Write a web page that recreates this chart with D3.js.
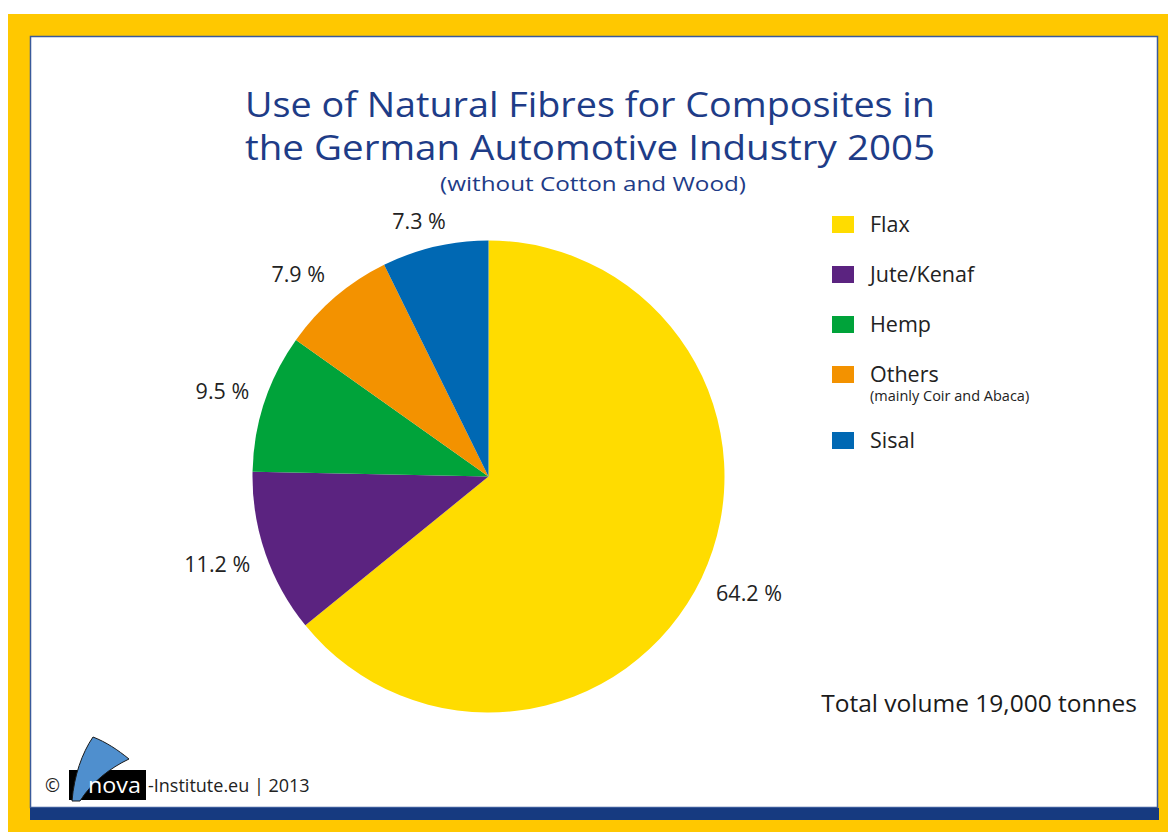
<!DOCTYPE html>
<html>
<head>
<meta charset="utf-8">
<script src="https://cdn.jsdelivr.net/npm/d3@7"></script>
<style>
  html, body { margin: 0; padding: 0; background: #fff; }
  svg { display: block; }
  text { font-family: "Open Sans", "Noto Sans", sans-serif; }
</style>
</head>
<body>
<svg id="chart" width="1168" height="832"></svg>
<script>
// ---- data ----
const categories = ["Flax", "Jute/Kenaf", "Hemp", "Others", "Sisal"];
const shares = [64.2, 11.2, 9.5, 7.9, 7.3];
const valueLabels = ["64.2 %", "11.2 %", "9.5 %", "7.9 %", "7.3 %"];
const legendNotes = ["", "", "", "(mainly Coir and Abaca)", ""];
const colors = ["#FFDC00", "#5B2380", "#00A33A", "#F39200", "#0068B3"];
const titleLines = ["Use of Natural Fibres for Composites in", "the German Automotive Industry 2005"];
const subtitle = "(without Cotton and Wood)";
const totalNote = "Total volume 19,000 tonnes";

const svg = d3.select("#chart");
const navy = "#1E3C87";

// ---- frame ----
svg.append("rect").attr("x", 8).attr("y", 14).attr("width", 1160).attr("height", 818).attr("fill", "#FFC800");
svg.append("rect").attr("x", 30.5).attr("y", 36.5).attr("width", 1127).attr("height", 771)
  .attr("fill", "#fff").attr("stroke", "#3A5A9A").attr("stroke-width", 1.5);
svg.append("rect").attr("x", 30).attr("y", 808).attr("width", 1129).attr("height", 12).attr("fill", "#163A80");

// ---- titles ----
const cx = 590;
svg.append("text").attr("x", cx).attr("y", 117).attr("text-anchor", "middle")
  .attr("font-size", 35).attr("fill", navy).attr("textLength", 690).attr("lengthAdjust", "spacingAndGlyphs")
  .text(titleLines[0]);
svg.append("text").attr("x", cx).attr("y", 160).attr("text-anchor", "middle")
  .attr("font-size", 35).attr("fill", navy).attr("textLength", 690).attr("lengthAdjust", "spacingAndGlyphs")
  .text(titleLines[1]);
svg.append("text").attr("x", 593).attr("y", 191).attr("text-anchor", "middle")
  .attr("font-size", 20).attr("fill", navy).attr("textLength", 306).attr("lengthAdjust", "spacingAndGlyphs")
  .text(subtitle);

// ---- pie ----
const center = [488.5, 476.5];
const radius = 236;
const data = categories.map((c, i) => ({ name: c, value: shares[i], label: valueLabels[i], color: colors[i] }));
const pie = d3.pie().value(d => d.value).sort(null);
const arc = d3.arc().innerRadius(0).outerRadius(radius);
const labelArc = d3.arc().innerRadius(252).outerRadius(252);
const g = svg.append("g").attr("transform", `translate(${center[0]},${center[1]})`);
const arcs = pie(data);
g.selectAll("path.slice").data(arcs).enter().append("path")
  .attr("class", "slice").attr("d", arc).attr("fill", d => d.data.color);
const clamp = v => Math.max(-1, Math.min(1, v));
g.selectAll("text.pct").data(arcs).enter().append("text")
  .attr("class", "pct")
  .attr("text-anchor", "middle").attr("dy", "0.35em")
  .attr("font-size", 21.5).attr("fill", "#222")
  .text(d => d.data.label)
  .each(function(d) {
    const bb = this.getBBox();
    const a = (d.startAngle + d.endAngle) / 2;
    const c = labelArc.centroid(d);
    const ox = bb.width / 2 * clamp(Math.sin(a) / 0.5);
    const oy = 10 * clamp(-Math.cos(a) / 0.5);
    d3.select(this).attr("transform", `translate(${c[0] + ox},${c[1] + oy})`);
  });

// ---- legend ----
const legendY = d3.scalePoint().domain(categories).range([216, 416]);
const lg = svg.append("g");
categories.forEach((c, i) => {
  const y = legendY(c) + (i === 4 ? 16 : 0);
  lg.append("rect").attr("x", 832).attr("y", y).attr("width", 22).attr("height", 17).attr("fill", colors[i]);
  lg.append("text").attr("x", 870).attr("y", y + 16).attr("font-size", 21.5).attr("fill", "#222").text(c);
  if (legendNotes[i]) {
    lg.append("text").attr("x", 870).attr("y", y + 35).attr("font-size", 14.5).attr("fill", "#222").text(legendNotes[i]);
  }
});

// ---- total note ----
svg.append("text").attr("x", 1137).attr("y", 712).attr("text-anchor", "end")
  .attr("font-size", 24.5).attr("fill", "#1a1a1a").text(totalNote);

// ---- logo & copyright ----
svg.append("text").attr("x", 45).attr("y", 792).attr("font-size", 18).attr("fill", "#222").text("©");
svg.append("rect").attr("x", 69).attr("y", 770).attr("width", 77).attr("height", 30).attr("fill", "#000");
svg.append("path")
  .attr("d", "M72,801 C74,776 82,753 93,737 C106,742 118,750 129,759 C110,768 92,782 80,801 Z")
  .attr("fill", "#4F8FCE").attr("stroke", "#1a1a1a").attr("stroke-width", 1);
svg.append("text").attr("x", 88).attr("y", 793).attr("font-size", 22).attr("fill", "#fff")
  .attr("textLength", 53).attr("lengthAdjust", "spacingAndGlyphs").text("nova");
svg.append("text").attr("x", 148).attr("y", 792).attr("font-size", 18).attr("fill", "#222").text("-Institute.eu | 2013");
</script>
</body>
</html>
